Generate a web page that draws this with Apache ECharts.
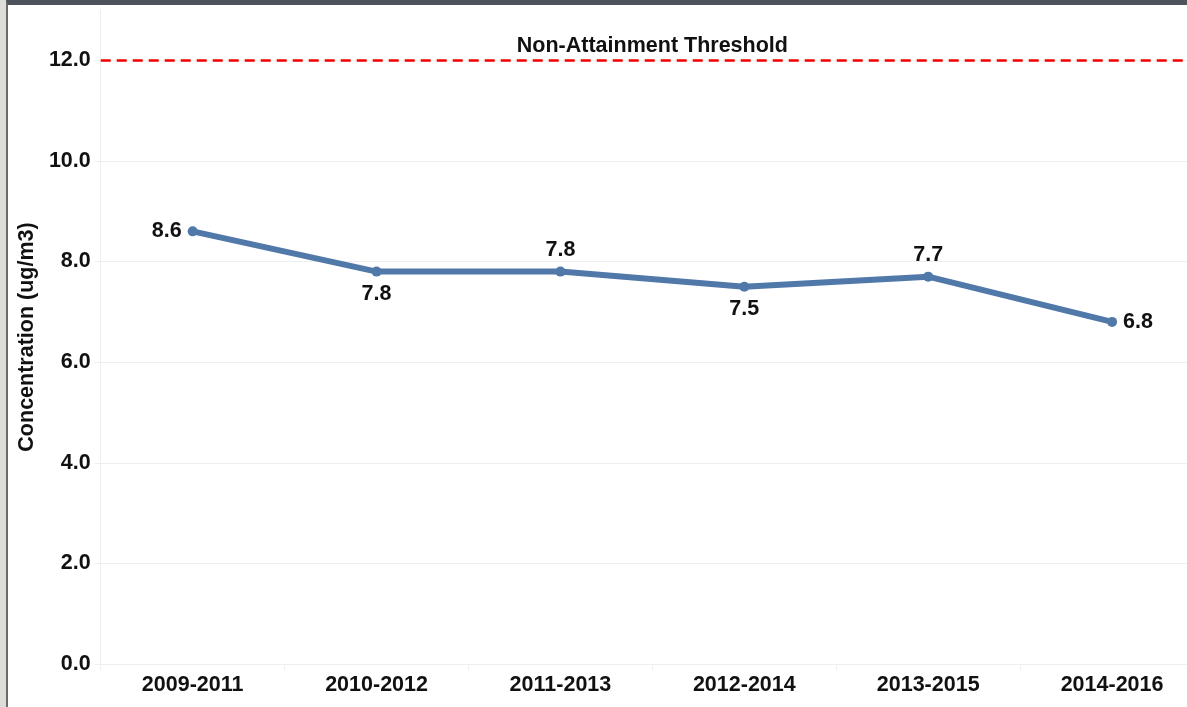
<!DOCTYPE html>
<html>
<head>
<meta charset="utf-8">
<script src="https://cdn.jsdelivr.net/npm/echarts@6/dist/echarts.min.js"></script>
<style>
html,body{margin:0;padding:0;background:#dcdcd8;width:1187px;height:707px;overflow:hidden;}
#frame{position:absolute;left:6px;top:0;width:1181px;height:702px;border-top:5px solid #4e525a;border-left:2px solid #6a6a6a;background:#fff;overflow:hidden;}
#chart{position:absolute;left:0;top:0;width:1230px;height:702px;}
</style>
</head>
<body>
<div id="frame"><div id="chart"></div></div>
<script>
const categories = ['2009-2011','2010-2012','2011-2013','2012-2014','2013-2015','2014-2016'];
const concentration = [8.6, 7.8, 7.8, 7.5, 7.7, 6.8];
const threshold = 12.0;
const thresholdLabel = 'Non-Attainment Threshold';
const yAxisName = 'Concentration (ug/m3)';

const labelPlacement = ['left','bottom','top','bottom','top','right'];
const FONT = '"Liberation Sans", Arial, sans-serif';
const FS = 21.5;

const chart = echarts.init(document.getElementById('chart'));
chart.setOption({
  animation: false,
  textStyle: {fontFamily: FONT},
  grid: {left: 92, top: 5, width: 1104, height: 654, containLabel: false},
  xAxis: {
    type: 'category',
    data: categories,
    boundaryGap: true,
    axisLine: {show: true, lineStyle: {color: '#eeeeee', width: 1}},
    axisTick: {show: true, length: 6, lineStyle: {color: '#eeeeee'}},
    axisLabel: {color: '#111', fontWeight: 'bold', fontSize: FS, fontFamily: FONT, margin: 10},
    splitLine: {show: false}
  },
  yAxis: {
    type: 'value',
    min: 0, max: 13, interval: 2,
    name: yAxisName,
    nameLocation: 'middle',
    nameGap: 60,
    nameRotate: 90,
    nameTextStyle: {color: '#111', fontWeight: 'bold', fontSize: FS, fontFamily: FONT},
    axisLine: {show: true, lineStyle: {color: '#eeeeee', width: 1}},
    axisTick: {show: true, length: 6, lineStyle: {color: '#eeeeee'}},
    axisLabel: {
      color: '#111', fontWeight: 'bold', fontSize: FS, fontFamily: FONT, margin: 10,
      showMaxLabel: false,
      formatter: v => v.toFixed(1)
    },
    splitLine: {show: true, lineStyle: {color: ['#eeeeee','#eeeeee','#eeeeee','#eeeeee','#eeeeee','#eeeeee','#eeeeee','rgba(0,0,0,0)'], width: 1}}
  },
  series: [{
    type: 'line',
    data: concentration.map((v, i) => ({
      value: v,
      label: {position: labelPlacement[i]}
    })),
    lineStyle: {color: '#5078a8', width: 6},
    itemStyle: {color: '#5078a8'},
    symbol: 'circle',
    symbolSize: 10,
    label: {
      show: true,
      color: '#111', fontWeight: 'bold', fontSize: FS, fontFamily: FONT,
      distance: 6,
      formatter: p => p.value.toFixed(1)
    },
    markLine: {
      silent: true,
      symbol: ['none','none'],
      lineStyle: {color: '#f20000', type: [10, 6], width: 2.5},
      label: {
        show: true,
        position: 'insideMiddleTop',
        formatter: thresholdLabel,
        color: '#111', fontWeight: 'bold', fontSize: FS, fontFamily: FONT,
        distance: 3
      },
      data: [{yAxis: threshold}]
    }
  }]
});
</script>
</body>
</html>
